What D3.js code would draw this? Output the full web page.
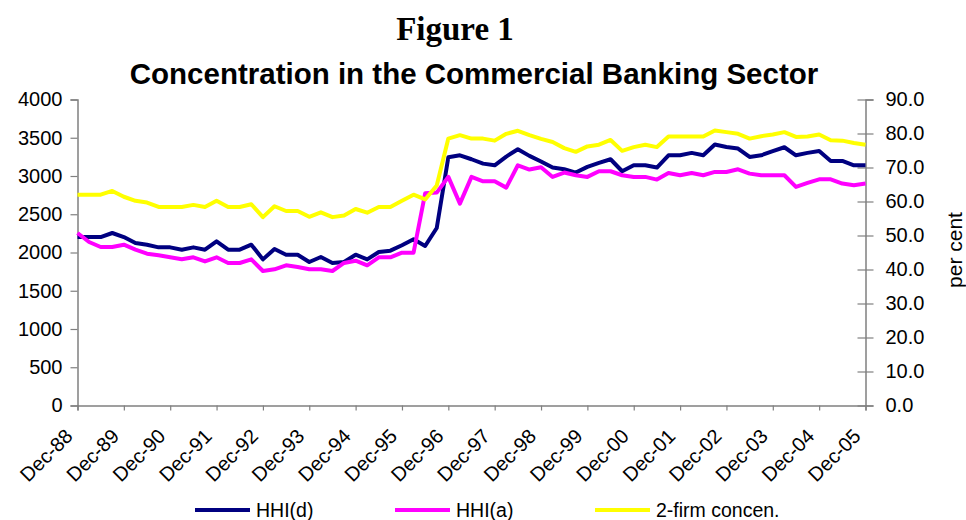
<!DOCTYPE html>
<html>
<head>
<meta charset="utf-8">
<script src="https://cdn.jsdelivr.net/npm/d3@7"></script>
<style>
  html, body { margin: 0; padding: 0; background: #fff; }
  svg { display: block; }
  text { font-family: "Liberation Sans", Arial, sans-serif; fill: #000; }
</style>
</head>
<body>
<svg id="chart" width="966" height="520"></svg>
<script>
// Quarterly observations, Dec-88 through Dec-05 (69 quarters)
const tickLabels = ["Dec-88","Dec-89","Dec-90","Dec-91","Dec-92","Dec-93","Dec-94","Dec-95","Dec-96",
                    "Dec-97","Dec-98","Dec-99","Dec-00","Dec-01","Dec-02","Dec-03","Dec-04","Dec-05"];

// Herfindahl-Hirschman index, deposits (left axis)
const hhiD = [2202,2202,2202,2255,2202,2124,2102,2067,2067,2037,2067,2037,2146,2037,2037,2102,
              1910,2046,1971,1971,1876,1941,1863,1876,1971,1910,2006,2024,2094,2172,2085,2320,
              3245,3271,3219,3162,3140,3254,3350,3263,3190,3110,3088,3045,3119,3171,3219,3062,
              3140,3140,3110,3271,3271,3302,3271,3411,3380,3359,3249,3271,3324,3376,3271,3302,
              3328,3197,3197,3140,3140];

// Herfindahl-Hirschman index, assets (left axis)
const hhiA = [2255,2137,2072,2072,2102,2037,1985,1963,1937,1911,1937,1884,1937,1863,1863,1910,
              1758,1780,1832,1810,1780,1780,1758,1863,1893,1832,1937,1937,1998,1998,2774,2783,
              2988,2639,2988,2931,2931,2848,3140,3084,3115,2988,3045,3010,2988,3062,3062,3010,
              2988,2988,2953,3040,3010,3040,3010,3053,3053,3088,3031,3010,3010,3010,2857,2909,
              2957,2957,2901,2879,2901];

// Two-firm concentration ratio, per cent (right axis)
const firm2 = [62.0,62.0,62.0,63.1,61.4,60.2,59.7,58.4,58.4,58.4,59.0,58.4,60.2,58.4,58.4,59.2,
               55.4,58.6,57.2,57.2,55.5,56.8,55.4,55.9,57.8,56.7,58.4,58.4,60.2,62.0,60.6,64.7,
               78.5,79.5,78.5,78.5,77.9,79.9,80.8,79.5,78.4,77.5,75.7,74.6,76.2,76.7,78.1,74.9,
               76.0,76.7,76.0,79.1,79.1,79.1,79.1,80.9,80.4,79.9,78.5,79.2,79.7,80.4,79.0,79.1,
               79.7,78.0,77.9,77.2,76.7];

const leftTicks = [0,500,1000,1500,2000,2500,3000,3500,4000];
const rightTicks = [0,10,20,30,40,50,60,70,80,90];

const seriesList = [
  { name: "HHI(d)", values: hhiD, axis: "left", color: "#000080" },
  { name: "HHI(a)", values: hhiA, axis: "left", color: "#FF00FF" },
  { name: "2-firm concen.", values: firm2, axis: "right", color: "#FFFF00" }
];

const plot = { left: 77.5, right: 865.5, top: 99.5, bottom: 405.5 };
const svg = d3.select("#chart");

const x = d3.scaleLinear().domain([0, hhiD.length - 1]).range([plot.left, plot.right]);
const yL = d3.scaleLinear().domain([0, 4000]).range([plot.bottom, plot.top]);
const yR = d3.scaleLinear().domain([0, 90]).range([plot.bottom, plot.top]);

const axisColor = "#808080";
const tickFont = 20;

// Left axis
const gL = svg.append("g").attr("transform", `translate(${plot.left},0)`)
  .call(d3.axisLeft(yL).tickValues(leftTicks).tickSize(7).tickPadding(8).tickFormat(d3.format("d")));
// Right axis with ticks crossing the line
const gR = svg.append("g").attr("transform", `translate(${plot.right},0)`)
  .call(d3.axisRight(yR).tickValues(rightTicks).tickSize(8).tickPadding(12).tickFormat(d3.format(".1f")));
gR.selectAll(".tick line").attr("x1", -8);
// Bottom axis
const tickIdx = tickLabels.map((_, i) => i * 4);
const gB = svg.append("g").attr("transform", `translate(0,${plot.bottom})`)
  .call(d3.axisBottom(x).tickValues(tickIdx).tickSize(5).tickFormat(d => tickLabels[d / 4]));

[gL, gR, gB].forEach(g => {
  g.select(".domain").attr("stroke", axisColor).attr("stroke-width", 1.5);
  g.selectAll(".tick line").attr("stroke", axisColor).attr("stroke-width", 1.2);
  g.selectAll(".tick text").attr("font-size", tickFont)
    .attr("font-family", "'Liberation Sans', Arial, sans-serif").attr("fill", "#000");
});
gB.selectAll(".tick text")
  .attr("text-anchor", "end")
  .attr("transform", "translate(-9,27) rotate(-45)")
  .attr("dy", "0.35em").attr("y", 0).attr("x", 0);

// Series lines
seriesList.forEach(s => {
  const yS = s.axis === "left" ? yL : yR;
  const line = d3.line().x((d, i) => x(i)).y(d => yS(d));
  svg.append("path")
    .datum(s.values)
    .attr("fill", "none")
    .attr("stroke", s.color)
    .attr("stroke-width", 4)
    .attr("stroke-linejoin", "round")
    .attr("d", line);
});

// Titles
svg.append("text").attr("x", 455).attr("y", 40)
  .attr("text-anchor", "middle")
  .style("font-family", "'Liberation Serif', 'Times New Roman', serif")
  .attr("font-weight", "bold").attr("font-size", 33)
  .text("Figure 1");
svg.append("text").attr("x", 474).attr("y", 84)
  .attr("text-anchor", "middle")
  .attr("font-weight", "bold").attr("font-size", 29.5)
  .text("Concentration in the Commercial Banking Sector");

// Right axis title
svg.append("text")
  .attr("transform", "translate(962,250) rotate(-90)")
  .attr("text-anchor", "middle")
  .attr("font-size", 21)
  .text("per cent");

// Legend
const legendX = [195, 395, 595];
seriesList.forEach((s, i) => {
  const g = svg.append("g").attr("transform", `translate(${legendX[i]},510)`);
  g.append("line").attr("x1", 0).attr("x2", 55).attr("y1", 0).attr("y2", 0)
    .attr("stroke", s.color).attr("stroke-width", 4);
  g.append("text").attr("x", 61).attr("y", 7).attr("font-size", 19.5).text(s.name);
});
</script>
</body>
</html>
